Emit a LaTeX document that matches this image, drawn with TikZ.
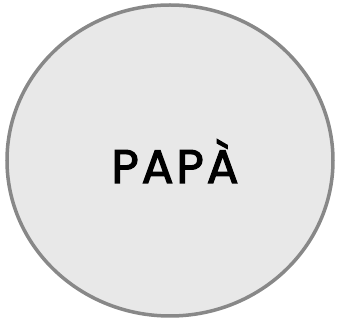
\documentclass[tikz,border=0pt]{standalone}
\usepackage{fontspec}
\setmainfont{Poppins}
\newfontfamily\labelfont{Poppins}[FakeBold=2.6, LetterSpace=6.5]
\definecolor{fillgray}{HTML}{E8E8E8}
\definecolor{edgegray}{HTML}{888888}
\begin{document}
\begin{tikzpicture}[x=1pt,y=1pt]
\useasboundingbox (0,0) rectangle (338,321);
\fill[fillgray, draw=edgegray, line width=3.5pt] (170,160.5) ellipse [x radius=163, y radius=155.5];
\node[anchor=base, inner sep=0pt] (t) at (175,138) {\labelfont\fontsize{47}{50}\selectfont PAPÀ};
\end{tikzpicture}
\end{document}
